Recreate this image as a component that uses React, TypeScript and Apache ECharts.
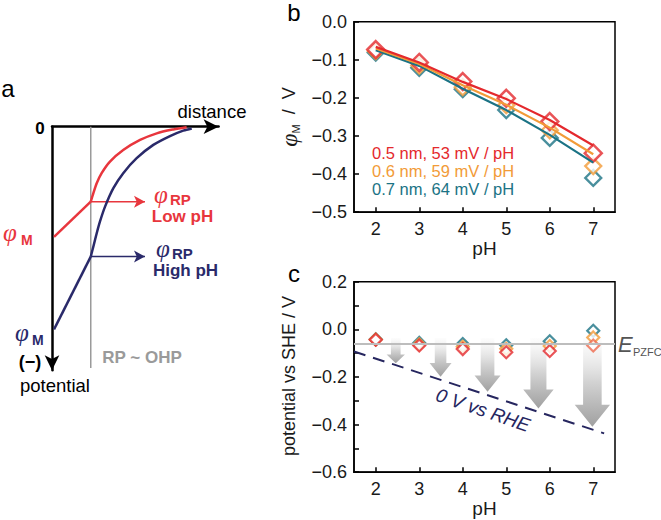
import React, { useEffect, useRef } from 'react';
import * as echarts from 'echarts';

// ---------- panel b : phi_M vs pH ----------
const PH = [2, 3, 4, 5, 6, 7];
const PH_TICKS = [2, 3, 4, 5, 6, 7];
const phiRed = [-0.073, -0.107, -0.157, -0.201, -0.262, -0.345];
const phiOrange = [-0.077, -0.115, -0.172, -0.219, -0.285, -0.379];
const phiTeal = [-0.081, -0.121, -0.177, -0.232, -0.305, -0.41];
const fitRed = [-0.066, -0.107, -0.158, -0.203, -0.258, -0.325];
const fitOrange = [-0.07, -0.111, -0.167, -0.218, -0.278, -0.348];
const fitTeal = [-0.075, -0.116, -0.176, -0.232, -0.297, -0.37];
const legendTexts = ['0.5 nm, 53 mV / pH', '0.6 nm, 59 mV / pH', '0.7 nm, 64 mV / pH'];

// ---------- panel c : potential vs SHE ----------
const pzcRed = [-0.044, -0.068, -0.083, -0.096, -0.091, -0.068];
const pzcOrange = [-0.043, -0.063, -0.073, -0.082, -0.07, -0.034];
const pzcTeal = [-0.042, -0.057, -0.062, -0.067, -0.05, -0.006];
const E_PZFC = -0.062;
const rhePH = [1.5, 7.25];
const rheV = [-0.093, -0.437];
const arrowPH = [2.46, 3.49, 4.57, 5.74, 6.98];
const arrowTip = [-0.142, -0.199, -0.262, -0.332, -0.409];

// ---------- panel a : schematic (arbitrary units) ----------
const OHP_D = 22.8;
const OHP_BOTTOM = -98.1;
const redDropD = [1.2, 22.8];
const redDropP = [-44.8, -30.5];
const redCurveD = [22.8, 24.3, 26.3, 29.2, 34.1, 41.9, 51.8, 61.6, 71.4, 79.2];
const redCurveP = [-30.5, -27.1, -23.0, -18.9, -14.2, -9.5, -5.4, -2.7, -1.1, -0.2];
const navyDropD = [1.2, 22.8];
const navyDropP = [-82.4, -52.8];
const navyCurveD = [22.8, 24.3, 26.3, 28.2, 31.2, 36.1, 41.9, 49.8, 59.6, 69.4, 77.2, 82.2];
const navyCurveP = [-52.8, -48.8, -43.3, -38.6, -32.5, -25.0, -18.9, -12.8, -7.4, -3.8, -1.6, -0.7];
const rpArrowEndD = 54.7;

const FONT = '"Liberation Sans", Arial, Helvetica, sans-serif';
const SERIF = '"Liberation Serif", "DejaVu Serif", serif';
const RED = '#e4292d';
const ORANGE = '#f29b38';
const TEAL = '#1b7385';
const A_RED = '#e8363d';
const NAVY = '#2a2a6a';
const DASH_NAVY = '#26265f';

const fmt = (v: number) => {
  if (Math.abs(v) < 1e-9) return '0.0';
  return (v < 0 ? '\u2212' : '') + Math.abs(v).toFixed(1);
};

const pairs = (xs: number[], ys: number[]) => xs.map((x, i) => [x, ys[i]]);

function valueXAxis(gridIndex: number) {
  return {
    type: 'value',
    gridIndex,
    min: 1.5,
    max: 7.5,
    splitLine: { show: false },
    axisLine: { show: true, onZero: false, lineStyle: { color: '#000', width: 1.5 } },
    axisTick: { show: true, inside: true, length: 5, customValues: PH_TICKS, lineStyle: { color: '#000', width: 1.5 } },
    axisLabel: {
      customValues: PH_TICKS,
      fontSize: 18,
      fontFamily: FONT,
      color: '#1a1a1a',
      margin: 8,
      formatter: (v: number) => (Number.isInteger(v) ? String(v) : ''),
    },
    name: 'pH',
    nameLocation: 'middle',
    nameGap: 27,
    nameTextStyle: { fontSize: 19, fontFamily: FONT, color: '#1a1a1a' },
  };
}

const diamond = (color: string, size: number, bw: number) => ({
  symbol: 'diamond',
  symbolSize: size,
  itemStyle: { color: '#fff', borderColor: color, borderWidth: bw },
});

export default function App() {
  const ref = useRef<HTMLDivElement>(null);
  useEffect(() => {
    document.body.style.margin = '0';
    if (!ref.current) return;
    const chart = echarts.init(ref.current, null, { renderer: 'svg' });

    const arrowGradient = new echarts.graphic.LinearGradient(0, 0, 0, 1, [
      { offset: 0, color: 'rgba(250,250,250,0.5)' },
      { offset: 0.5, color: '#d2d2d2' },
      { offset: 1, color: '#a0a0a0' },
    ]);

    const option: any = {
      animation: false,
      grid: [
        { left: 354, top: 21.7, width: 261, height: 190.5, show: true, borderColor: '#000', borderWidth: 1.5, backgroundColor: 'transparent' },
        { left: 354, top: 281.7, width: 261, height: 190.5, show: true, borderColor: '#000', borderWidth: 1.5, backgroundColor: 'transparent' },
        { left: 52, top: 126.7, width: 166.6, height: 243.5 },
      ],
      xAxis: [
        valueXAxis(0),
        valueXAxis(1),
        {
          type: 'value',
          gridIndex: 2,
          min: 0,
          max: 98,
          splitLine: { show: false },
          axisTick: { show: false },
          axisLabel: { show: false },
          axisLine: { show: true, onZero: true, symbol: ['none', 'arrow'], symbolSize: [11, 15], lineStyle: { color: '#000', width: 2.5 } },
        },
      ],
      yAxis: [
        {
          type: 'value',
          gridIndex: 0,
          min: -0.5,
          max: 0,
          interval: 0.1,
          splitLine: { show: false },
          axisLine: { show: true, onZero: false, lineStyle: { color: '#000', width: 1.5 } },
          axisTick: { show: true, inside: true, length: 5, lineStyle: { color: '#000', width: 1.5 } },
          axisLabel: { fontSize: 18, fontFamily: FONT, color: '#1a1a1a', margin: 7, formatter: fmt },
        },
        {
          type: 'value',
          gridIndex: 1,
          min: -0.6,
          max: 0.2,
          interval: 0.2,
          splitLine: { show: false },
          axisLine: { show: true, onZero: false, lineStyle: { color: '#000', width: 1.5 } },
          axisTick: { show: true, inside: true, length: 5, lineStyle: { color: '#000', width: 1.5 } },
          minorTick: { show: true, splitNumber: 2, length: 5, lineStyle: { color: '#000', width: 1.5 } },
          axisLabel: { fontSize: 18, fontFamily: FONT, color: '#1a1a1a', margin: 7, formatter: fmt },
        },
        {
          type: 'value',
          gridIndex: 2,
          min: -99,
          max: 0,
          splitLine: { show: false },
          axisTick: { show: false },
          axisLabel: { show: false },
          axisLine: { show: true, onZero: true, symbol: ['arrow', 'none'], symbolSize: [11, 15], lineStyle: { color: '#000', width: 2.5 } },
        },
      ],
      series: [
        // ----- panel b -----
        { type: 'line', xAxisIndex: 0, yAxisIndex: 0, data: pairs(PH, fitTeal), symbol: 'none', lineStyle: { color: TEAL, width: 2.2 } },
        { type: 'line', xAxisIndex: 0, yAxisIndex: 0, data: pairs(PH, fitOrange), symbol: 'none', lineStyle: { color: ORANGE, width: 2.2 } },
        { type: 'line', xAxisIndex: 0, yAxisIndex: 0, data: pairs(PH, fitRed), symbol: 'none', lineStyle: { color: RED, width: 2.2 } },
        { type: 'scatter', xAxisIndex: 0, yAxisIndex: 0, data: pairs(PH, phiTeal), ...diamond(TEAL, 16, 2.3) },
        { type: 'scatter', xAxisIndex: 0, yAxisIndex: 0, data: pairs(PH, phiOrange), ...diamond(ORANGE, 16, 2.3) },
        { type: 'scatter', xAxisIndex: 0, yAxisIndex: 0, data: pairs(PH, phiRed), ...diamond(RED, 17, 2.5) },
        // ----- panel c -----
        {
          type: 'custom',
          xAxisIndex: 1,
          yAxisIndex: 1,
          data: arrowPH.map((p, i) => [p, E_PZFC, arrowTip[i]]),
          renderItem: (params: any, api: any) => {
            const top = api.coord([api.value(0), api.value(1)]);
            const tip = api.coord([api.value(0), api.value(2)]);
            const len = tip[1] - top[1];
            const s = 7 + 0.14 * len;
            const h = 1.9 * s;
            const hl = Math.min(0.45 * len, 0.62 * h);
            const x = top[0];
            const y0 = top[1] - 6;
            const yb = tip[1] - hl;
            return {
              type: 'polygon',
              shape: {
                points: [
                  [x - s / 2, y0], [x + s / 2, y0], [x + s / 2, yb], [x + h / 2, yb],
                  [x, tip[1]], [x - h / 2, yb], [x - s / 2, yb],
                ],
              },
              style: { fill: arrowGradient, stroke: 'none' },
            };
          },
        },
        {
          type: 'line', xAxisIndex: 1, yAxisIndex: 1,
          data: [[1.5, E_PZFC], [7.5, E_PZFC]], symbol: 'none',
          lineStyle: { color: '#bdbdbd', width: 2 },
        },
        {
          type: 'line', xAxisIndex: 1, yAxisIndex: 1,
          data: pairs(rhePH, rheV), symbol: 'none',
          lineStyle: { color: DASH_NAVY, width: 2, type: [12, 8] },
        },
        { type: 'scatter', xAxisIndex: 1, yAxisIndex: 1, data: pairs(PH, pzcTeal), ...diamond(TEAL, 12, 2.2) },
        { type: 'scatter', xAxisIndex: 1, yAxisIndex: 1, data: pairs(PH, pzcOrange), ...diamond(ORANGE, 12, 2.2) },
        {
          type: 'scatter', xAxisIndex: 1, yAxisIndex: 1,
          data: PH.map((p, i) => (i === PH.length - 1
            ? { value: [p, pzcRed[i]], itemStyle: { borderColor: '#ee6a4d' } }
            : [p, pzcRed[i]])),
          ...diamond(RED, 12, 2.2),
        },
        // ----- panel a -----
        {
          type: 'line', xAxisIndex: 2, yAxisIndex: 2,
          data: [[OHP_D, 0], [OHP_D, OHP_BOTTOM]], symbol: 'none',
          lineStyle: { color: '#9a9a9a', width: 1.5 },
        },
        {
          type: 'line', xAxisIndex: 2, yAxisIndex: 2,
          data: [
            { value: [OHP_D, redCurveP[0]], symbol: 'none' },
            { value: [rpArrowEndD, redCurveP[0]], symbol: 'arrow', symbolSize: [9, 11], symbolRotate: -90 },
          ],
          showSymbol: true,
          itemStyle: { color: A_RED },
          lineStyle: { color: A_RED, width: 1.5 },
        },
        {
          type: 'line', xAxisIndex: 2, yAxisIndex: 2,
          data: [
            { value: [OHP_D, navyCurveP[0]], symbol: 'none' },
            { value: [rpArrowEndD, navyCurveP[0]], symbol: 'arrow', symbolSize: [9, 11], symbolRotate: -90 },
          ],
          showSymbol: true,
          itemStyle: { color: NAVY },
          lineStyle: { color: NAVY, width: 1.5 },
        },
        { type: 'line', xAxisIndex: 2, yAxisIndex: 2, data: pairs(navyDropD, navyDropP), symbol: 'none', lineStyle: { color: NAVY, width: 2.5 } },
        { type: 'line', xAxisIndex: 2, yAxisIndex: 2, data: pairs(navyCurveD, navyCurveP), symbol: 'none', smooth: 0.3, lineStyle: { color: NAVY, width: 2.5 } },
        { type: 'line', xAxisIndex: 2, yAxisIndex: 2, data: pairs(redDropD, redDropP), symbol: 'none', lineStyle: { color: A_RED, width: 2.5 } },
        { type: 'line', xAxisIndex: 2, yAxisIndex: 2, data: pairs(redCurveD, redCurveP), symbol: 'none', smooth: 0.3, lineStyle: { color: A_RED, width: 2.5 } },
      ],
      graphic: [
        // panel letters
        { type: 'text', x: 8, y: 88, style: { text: 'a', fontSize: 24, fontFamily: FONT, fill: '#000', align: 'center', verticalAlign: 'middle' } },
        { type: 'text', x: 294, y: 12, style: { text: 'b', fontSize: 24, fontFamily: FONT, fill: '#000', align: 'center', verticalAlign: 'middle' } },
        { type: 'text', x: 294, y: 273, style: { text: 'c', fontSize: 24, fontFamily: FONT, fill: '#000', align: 'center', verticalAlign: 'middle' } },
        // panel b y title
        {
          type: 'text', x: 289, y: 117, rotation: Math.PI / 2,
          style: {
            text: '{phi|\u03c6}{sub|M}{t|  /  V}',
            align: 'center', verticalAlign: 'middle', fill: '#1a1a1a', fontFamily: FONT,
            rich: {
              phi: { fontFamily: SERIF, fontStyle: 'italic', fontSize: 24, fill: '#1a1a1a' },
              sub: { fontFamily: FONT, fontSize: 11, fill: '#1a1a1a', verticalAlign: 'bottom' },
              t: { fontFamily: FONT, fontSize: 18, fill: '#1a1a1a' },
            },
          },
        },
        // panel c y title
        {
          type: 'text', x: 289, y: 376, rotation: Math.PI / 2,
          style: { text: 'potential vs SHE / V', fontSize: 18, fontFamily: FONT, fill: '#1a1a1a', align: 'center', verticalAlign: 'middle' },
        },
        // panel b legend texts
        ...legendTexts.map((t, i) => ({
          type: 'text', x: 372, y: 153 + i * 18,
          style: { text: t, fontSize: 16.5, fontFamily: FONT, fill: [RED, ORANGE, TEAL][i], align: 'left', verticalAlign: 'middle' },
        })),
        // E_PZFC
        { type: 'text', x: 618, y: 344, style: { text: 'E', fontSize: 22, fontStyle: 'italic', fontFamily: FONT, fill: '#555', align: 'left', verticalAlign: 'middle' } },
        { type: 'text', x: 633, y: 352, style: { text: 'PZFC', fontSize: 11, fontFamily: FONT, fill: '#555', align: 'left', verticalAlign: 'middle' } },
        // 0 V vs RHE
        {
          type: 'text', x: 483, y: 410, rotation: -0.33,
          style: { text: '0 V vs RHE', fontSize: 19, fontStyle: 'italic', fontFamily: FONT, fill: DASH_NAVY, align: 'center', verticalAlign: 'middle' },
        },
        // panel a texts
        { type: 'text', x: 212, y: 111, style: { text: 'distance', fontSize: 18.5, fontFamily: FONT, fill: '#000', align: 'center', verticalAlign: 'middle' } },
        { type: 'text', x: 40, y: 128.5, style: { text: '0', fontSize: 17, fontWeight: 'bold', fontFamily: FONT, fill: '#000', align: 'center', verticalAlign: 'middle' } },
        { type: 'text', x: 55, y: 385, style: { text: 'potential', fontSize: 18.5, fontFamily: FONT, fill: '#000', align: 'center', verticalAlign: 'middle' } },
        { type: 'text', x: 30, y: 362, style: { text: '(\u2212)', fontSize: 18, fontWeight: 'bold', fontFamily: FONT, fill: '#000', align: 'center', verticalAlign: 'middle' } },
        { type: 'text', x: 142, y: 357, style: { text: 'RP ~ OHP', fontSize: 17, fontWeight: 'bold', fontFamily: FONT, fill: '#9a9a9a', align: 'center', verticalAlign: 'middle' } },
        // red phi_M
        { type: 'text', x: 3, y: 232, style: { text: '\u03c6', fontSize: 25, fontStyle: 'italic', fontFamily: SERIF, fill: A_RED, align: 'left', verticalAlign: 'middle' } },
        { type: 'text', x: 21, y: 240, style: { text: 'M', fontSize: 14, fontWeight: 'bold', fontFamily: FONT, fill: A_RED, align: 'left', verticalAlign: 'middle' } },
        // navy phi_M
        { type: 'text', x: 15, y: 332, style: { text: '\u03c6', fontSize: 25, fontStyle: 'italic', fontFamily: SERIF, fill: NAVY, align: 'left', verticalAlign: 'middle' } },
        { type: 'text', x: 32, y: 339.5, style: { text: 'M', fontSize: 14, fontWeight: 'bold', fontFamily: FONT, fill: NAVY, align: 'left', verticalAlign: 'middle' } },
        // red phi_RP Low pH
        { type: 'text', x: 154, y: 194, style: { text: '\u03c6', fontSize: 25, fontStyle: 'italic', fontFamily: SERIF, fill: A_RED, align: 'left', verticalAlign: 'middle' } },
        { type: 'text', x: 170, y: 199, style: { text: 'RP', fontSize: 15, fontWeight: 'bold', fontFamily: FONT, fill: A_RED, align: 'left', verticalAlign: 'middle' } },
        { type: 'text', x: 182.5, y: 216, style: { text: 'Low pH', fontSize: 17, fontWeight: 'bold', fontFamily: FONT, fill: A_RED, align: 'center', verticalAlign: 'middle' } },
        // navy phi_RP High pH
        { type: 'text', x: 156, y: 248, style: { text: '\u03c6', fontSize: 25, fontStyle: 'italic', fontFamily: SERIF, fill: NAVY, align: 'left', verticalAlign: 'middle' } },
        { type: 'text', x: 172, y: 253, style: { text: 'RP', fontSize: 15, fontWeight: 'bold', fontFamily: FONT, fill: NAVY, align: 'left', verticalAlign: 'middle' } },
        { type: 'text', x: 185.5, y: 270, style: { text: 'High pH', fontSize: 17, fontWeight: 'bold', fontFamily: FONT, fill: NAVY, align: 'center', verticalAlign: 'middle' } },
      ],
    };

    chart.setOption(option);
    return () => chart.dispose();
  }, []);

  return <div ref={ref} style={{ width: 661, height: 520 }} />;
}
